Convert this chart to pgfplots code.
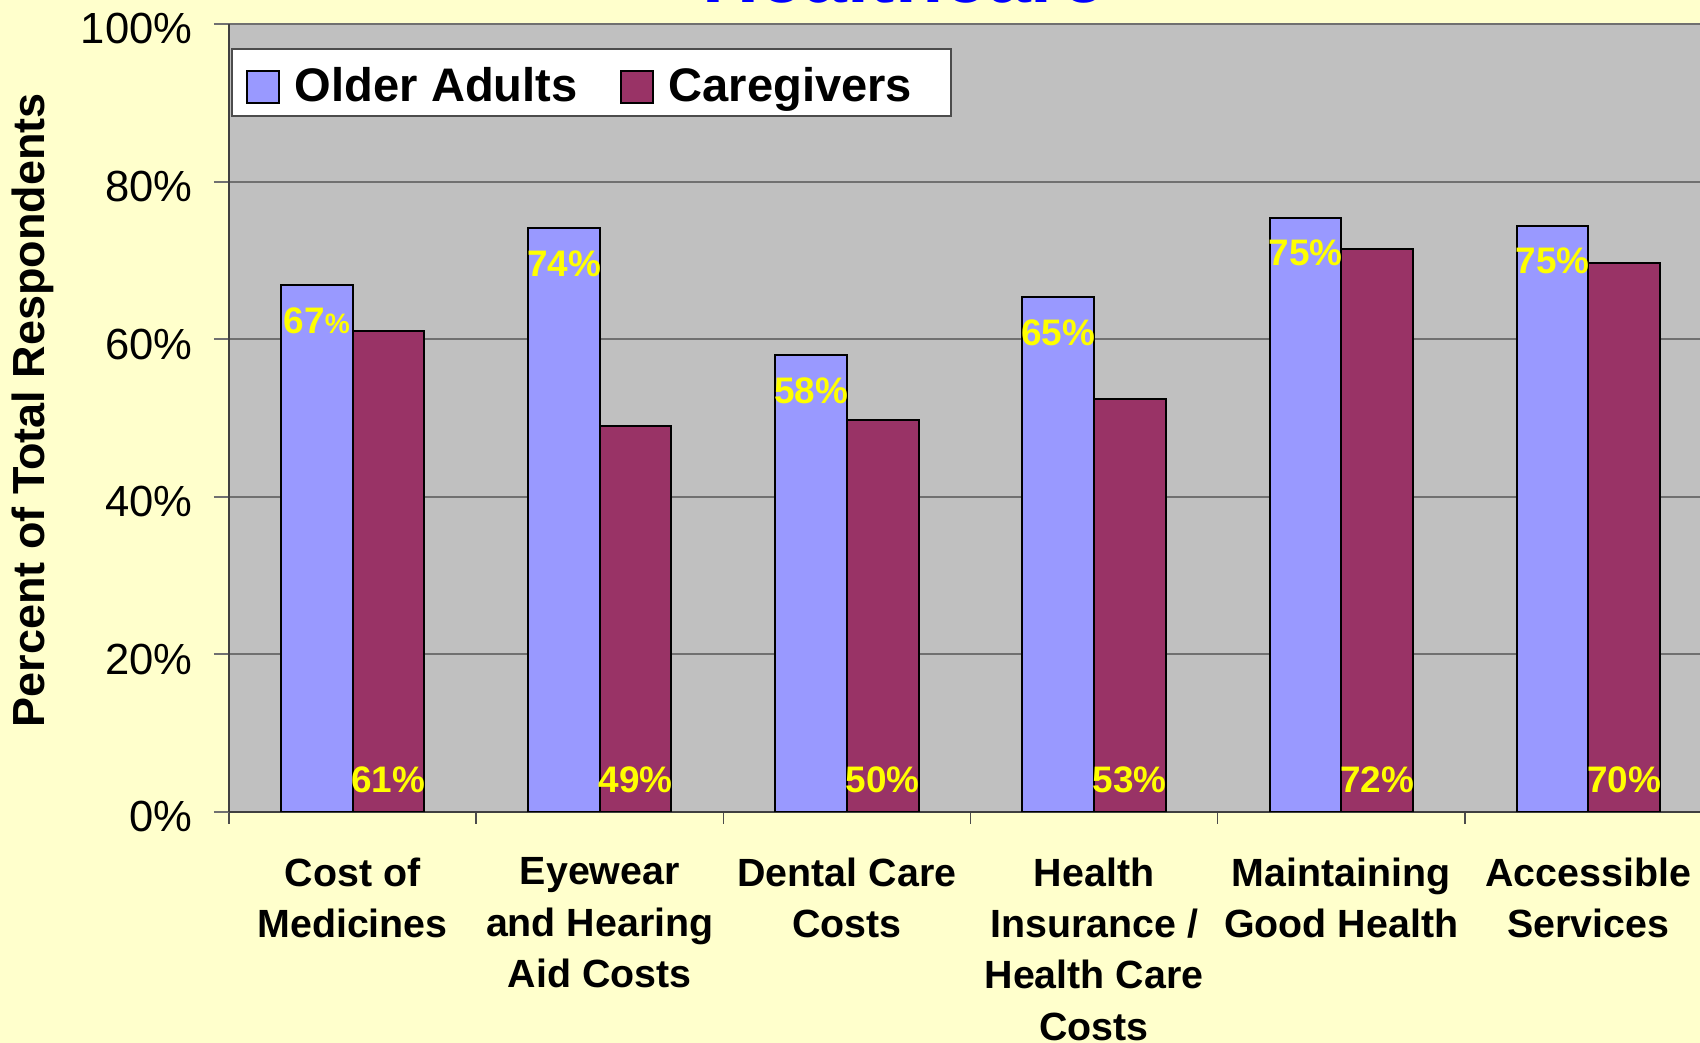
\documentclass[border=0pt]{standalone}
\usepackage{pgfplots}
\pgfplotsset{compat=1.18}
\usepackage{fontspec}
\setmainfont{Liberation Sans}
\definecolor{chartbg}{HTML}{FFFFCC}
\definecolor{plotbg}{HTML}{C0C0C0}
\definecolor{olderblue}{HTML}{9999FF}
\definecolor{caremaroon}{HTML}{993366}
\definecolor{gridgray}{HTML}{707070}
\definecolor{labelyellow}{HTML}{FFFF00}

\begin{document}
\begin{tikzpicture}
% the reference is a crop: title and right edge are cut off
\path[use as bounding box, fill=chartbg] (-2.29,-2.31) rectangle (14.71,8.12);
\clip (-2.29,-2.31) rectangle (14.71,8.12);
\node[anchor=base, text=blue, font=\fontsize{22.4}{26}\selectfont\bfseries] at (6.75,8.098) {Healthcare};
\begin{axis}[
  at={(0,0)}, anchor=south west,
  width=14.83cm, height=7.88cm, scale only axis,
  xmin=-0.5, xmax=5.5, ymin=0, ymax=100,
  axis background/.style={fill=plotbg},
  axis x line*=bottom, axis y line*=left,
  axis line style={draw=black!75, line width=0.25mm, -},
  ymajorgrids, major grid style={draw=gridgray, line width=0.2mm},
  ytick={0,20,...,100},
  yticklabel={\pgfmathprintnumber{\tick}\%},
  /pgf/number format/assume math mode=true,
  tick align=outside, major tick length=0.15cm,
  ytick style={draw=gridgray, line width=0.2mm},
  yticklabel style={font=\fontsize{12.4}{14}\selectfont, anchor=east, inner sep=0pt, xshift=-0.21cm, yshift=-0.05cm},
  xtick={0,...,5},
  xticklabels={{Cost of\\Medicines},{Eyewear\\and Hearing\\Aid Costs},{Dental Care\\Costs},{Health\\Insurance /\\Health Care\\Costs},{Maintaining\\Good Health},{Accessible\\Services}},
  xticklabel style={align=center, anchor=north, inner sep=0pt, yshift=-0.30cm, font=\fontsize{11.2}{14.6}\selectfont\bfseries},
  major x tick style={draw=none},
  minor xtick={-0.5,0.5,...,5.5}, minor tick length=0.12cm,
  minor x tick style={draw=black!70, line width=0.15mm},
  ylabel={Percent of Total Respondents},
  ylabel style={at={(axis description cs:-0.1322,0.51)}, anchor=center, rotate=0, font=\fontsize{12.8}{15}\selectfont\bfseries},
  legend style={at={(axis description cs:0.0013,0.9695)}, anchor=north west, fill=white, draw=gray!60!black, line width=0.2mm,
    font=\fontsize{13.4}{16}\selectfont\bfseries, legend columns=2, inner xsep=0.15cm, inner ysep=0.07cm,
    /tikz/every odd column/.append style={column sep=0.09cm},
    /tikz/every even column/.append style={column sep=0.36cm}},
]
\addplot[ybar, bar width=0.29, bar shift=-0.145, fill=olderblue, draw=black, line width=0.2mm,
  legend image code/.code={\path[draw=none, fill=none] (0cm,-0.16cm) rectangle (0.32cm,0.16cm);
    \draw[overlay, fill=olderblue, draw=black, line width=0.2mm] (0cm,-0.205cm) rectangle (0.32cm,0.115cm);},
  point meta=explicit symbolic, nodes near coords,
  every node near coord/.append style={anchor=center, xshift=-0.358cm, yshift=-0.355cm, text=labelyellow, inner sep=0pt, font=\fontsize{10.5}{12}\selectfont\bfseries}]
  coordinates {(0,66.9) [67{\fontsize{8}{9}\selectfont\%}] (1,74.1) [74\%] (2,58.0) [58\%] (3,65.3) [65\%] (4,75.4) [75\%] (5,74.4) [75\%]};
\addlegendentry{\raisebox{-1.3pt}[\height][\depth]{Older Adults}}
\addplot[ybar, bar width=0.29, bar shift=0.145, fill=caremaroon, draw=black, line width=0.2mm,
  legend image code/.code={\path[draw=none, fill=none] (0cm,-0.16cm) rectangle (0.32cm,0.16cm);
    \draw[overlay, fill=caremaroon, draw=black, line width=0.2mm] (0cm,-0.205cm) rectangle (0.32cm,0.115cm);}]
  coordinates {(0,61.1) (1,49.0) (2,49.8) (3,52.4) (4,71.5) (5,69.7)};
\addlegendentry{\raisebox{-1.3pt}[\height][\depth]{Caregivers}\hspace*{0.17cm}}
% caregiver labels sit near the base of the bars
\addplot[ybar, bar width=0.29, bar shift=0.145, draw=none, fill=none, forget plot,
  point meta=explicit symbolic, nodes near coords,
  every node near coord/.append style={anchor=center, xshift=0.358cm, text=labelyellow, inner sep=0pt, font=\fontsize{10.5}{12}\selectfont\bfseries}]
  coordinates {(0,4.06) [61\%] (1,4.06) [49\%] (2,4.06) [50\%] (3,4.06) [53\%] (4,4.06) [72\%] (5,4.06) [70\%]};
\end{axis}
\end{tikzpicture}
\end{document}
